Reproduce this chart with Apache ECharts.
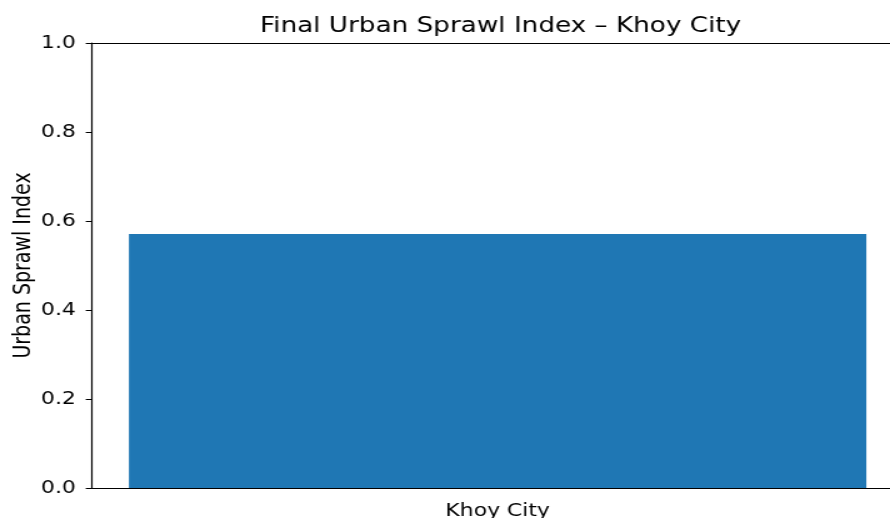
<!DOCTYPE html>
<html>
<head>
<meta charset="utf-8">
<script src="https://cdn.jsdelivr.net/npm/echarts@6/dist/echarts.min.js"></script>
<style>
  html, body { margin: 0; padding: 0; background: #fff; overflow: hidden; }
  /* the reference image is stretched sideways, so draw narrower and stretch */
  #chart { width: 712px; height: 518px; transform: scaleX(1.25); transform-origin: 0 0; }
</style>
</head>
<body>
<div id="chart"></div>
<script>
// data
const categories = ['Khoy City']
const sprawlValues = [0.571]
const yTicks = [0, 0.2, 0.4, 0.6, 0.8, 1.0]

const chart = echarts.init(document.getElementById('chart'))
const font = 'DejaVu Sans'

chart.setOption({
  animation: false,
  title: {
    text: 'Final Urban Sprawl Index \u2013 Khoy City',
    left: 395.5,
    top: 11,
    textAlign: 'center',
    textStyle: { fontFamily: font, fontSize: 21, fontWeight: 'normal', color: '#000' }
  },
  grid: {
    left: 73.6, top: 43, width: 649, bottom: 30,
    containLabel: false, outerBoundsMode: 'none'
  },
  xAxis: [
    {
      type: 'category',
      data: categories,
      axisLine: { lineStyle: { color: '#000', width: 1.2 } },
      axisTick: { alignWithLabel: true, length: 5, lineStyle: { color: '#000' } },
      axisLabel: { fontFamily: font, fontSize: 17.5, color: '#000', margin: 14 }
    },
    {
      type: 'category',
      position: 'top',
      data: categories,
      axisLine: { lineStyle: { color: '#000', width: 1.2 } },
      axisTick: { show: false },
      axisLabel: { show: false }
    }
  ],
  yAxis: {
    type: 'value',
    min: yTicks[0],
    max: yTicks[yTicks.length - 1],
    interval: 0.2,
    name: 'Urban Sprawl Index',
    nameLocation: 'middle',
    nameGap: 45,
    nameMoveOverlap: false,
    nameTextStyle: { fontFamily: font, fontSize: 19, color: '#000' },
    splitLine: { show: false },
    axisLine: { show: true, lineStyle: { color: '#000', width: 1.2 } },
    axisTick: { show: true, length: 5, lineStyle: { color: '#000' } },
    axisLabel: {
      fontFamily: font, fontSize: 17.5, color: '#000', margin: 13,
      formatter: v => v.toFixed(1)
    }
  },
  series: [
    {
      type: 'bar',
      data: sprawlValues,
      barWidth: '90.9%',
      itemStyle: { color: '#1f77b4' }
    }
  ]
})
</script>
</body>
</html>
